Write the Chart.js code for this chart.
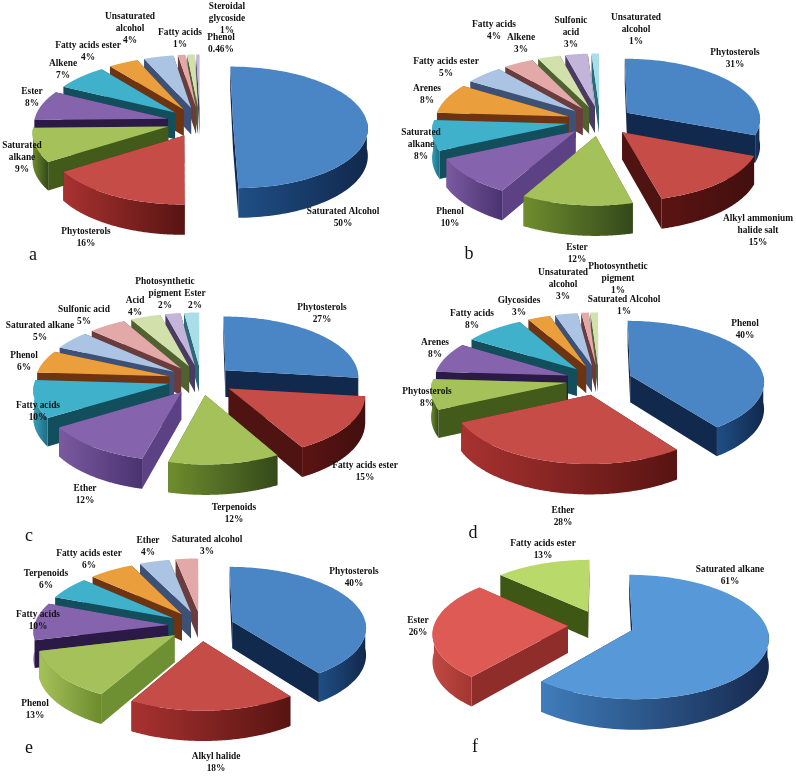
<!DOCTYPE html>
<html>
<head>
<meta charset="utf-8">
<style>
html,body{margin:0;padding:0;background:#fff;width:796px;height:776px;overflow:hidden}
canvas{position:absolute;left:0;top:0}
</style>
<script src="https://cdn.jsdelivr.net/npm/chart.js@4/dist/chart.umd.js"></script>
</head>
<body>
<script>
// ---------- data ----------
const categoriesA = ['Saturated Alcohol','Phytosterols','Saturated\nalkane','Ester','Alkene','Fatty acids ester','Unsaturated\nalcohol','Fatty acids','Steroidal\nglycoside','Phenol'];
const valuesA = [50,16,9,8,7,4,4,1,1,0.46];
const categoriesB = ['Phytosterols','Alkyl ammonium\nhalide salt','Ester','Phenol','Saturated\nalkane','Arenes','Fatty acids ester','Fatty acids','Alkene','Sulfonic\nacid','Unsaturated\nalcohol'];
const valuesB = [31,15,12,10,8,8,5,4,3,3,1];
const categoriesC = ['Phytosterols','Fatty acids ester','Terpenoids','Ether','Fatty acids','Phenol','Saturated alkane','Sulfonic acid','Acid','Photosynthetic\npigment','Ester'];
const valuesC = [27,15,12,12,10,6,5,5,4,2,2];
const categoriesD = ['Phenol','Ether','Phytosterols','Arenes','Fatty acids','Glycosides','Unsaturated\nalcohol','Photosynthetic\npigment','Saturated Alcohol'];
const valuesD = [40,28,8,8,8,3,3,1,1];
const categoriesE = ['Phytosterols','Alkyl halide','Phenol','Fatty acids','Terpenoids','Fatty acids ester','Ether','Saturated alcohol'];
const valuesE = [40,18,13,10,6,6,4,3];
const categoriesF = ['Saturated alkane','Ester','Fatty acids ester'];
const valuesF = [61,26,13];

// ---------- colours ----------
const topColors  = ['#4a86c5','#c64d47','#a5c25a','#8664ad','#3fb1cb','#eb9f3c','#abc4e3','#e3a9a9','#d2e0ac','#c3b5da','#a9dde8'];
const wallColors = ['#12294e','#4f1412','#425a1a','#2a1a45','#124e5c','#6e3310','#3d5075','#6b3c3c','#4f6230','#4a3b63','#2a6a78'];
const rimColors  = [['#1f4f86','#11284c'],['#a83230','#581412'],['#6f8d2e','#33491a'],['#7a5aa0','#4a3270'],['#3a9fb8','#1d6d82'],['#b8702a','#6e3310'],['#6d86ab','#3d5075'],['#a86f6f','#6b3c3c'],['#8a9c5c','#4f6230'],['#7c6c9c','#4a3b63'],['#5aa5b5','#2a6a78']];
const topColorsF = ['#5698d8','#de5a55','#b9d96a'];

// ---------- layout of the annotations (page px: centre x, first-line y) ----------
const labelPosA = [[343,212],[86,232],[22,146],[32,92],[63,64],[88,46],[130,17],[180,33],[227,7],[221,38]];
const labelPosB = [[735,53],[758,219],[577,248],[450,212],[421,133],[427,89],[446,62],[494,25],[521,38],[571,21],[636,18]];
const labelPosC = [[322,308],[365,466],[234,508],[85,489],[38,406],[24,356],[40,326],[84,310],[135,301],[165,282],[195,294]];
const labelPosD = [[745,324],[563,511],[427,392],[435,343],[472,314],[519,301],[563,273],[618,267],[624,300]];
const labelPosE = [[354,572],[216,757],[35,704],[38,615],[46,574],[89,554],[148,541],[207,540]];
const labelPosF = [[730,570],[418,621],[543,544]];

const panels = [
 {letter:'a',letterPos:[33,255],cx:200,cy:122,R:134,k:0.45,p:0.09,depth:27,explode:33,
  cats:categoriesA,vals:valuesA,pos:labelPosA,tops:topColors,wall:{},rim:{}},
 {letter:'b',letterPos:[469,254],cx:600,cy:121,R:134,k:0.45,p:0.09,depth:27,explode:33,
  cats:categoriesB,vals:valuesB,pos:labelPosB,tops:topColors,wall:{3:'#5c4185'},rim:{0:['#1a3a66','#12284c'],1:['#5a1412','#420f0f']}},
 {letter:'c',letterPos:[29,536],cx:201,cy:380,R:134,k:0.45,p:0.09,depth:27,explode:33,
  cats:categoriesC,vals:valuesC,pos:labelPosC,tops:topColors,wall:{3:'#5c4185'},rim:{0:['#1a3a66','#12284c'],1:['#5a1412','#420f0f']}},
 {letter:'d',letterPos:[473,533],cx:599,cy:380,R:134,k:0.45,p:0.09,depth:27,explode:33,
  cats:categoriesD,vals:valuesD,pos:labelPosD,tops:topColors,wall:{},rim:{}},
 {letter:'e',letterPos:[29,748],cx:201,cy:626,R:134,k:0.45,p:0.09,depth:27,explode:33,
  cats:categoriesE,vals:valuesE,pos:labelPosE,tops:topColors,wall:{2:'#6f8f33'},rim:{2:['#a5c25a','#6d8b2d']}},
 {letter:'f',letterPos:[475,747],cx:601,cy:625,R:134,k:0.45,p:0.11,depth:27,explode:33,
  cats:categoriesF,vals:valuesF,pos:labelPosF,tops:topColorsF,wall:{0:'#16294f',1:'#8f2d2a',2:'#3f5714'},rim:{0:['#3f7dbb','#16294f'],1:['#c04a44','#a33530']}}
];

const LABEL_FONT = 'bold 9.4px "Liberation Serif"';
const LINE_H = 11.6;

// ---------- 3D pie drawing: uses the arcs laid out by Chart.js, seen in perspective ----------
const pie3d = {
  id:'pie3d',
  beforeDatasetsDraw(chart){
    const cfg = chart.options.plugins.pie3d.panel;
    const ctx = chart.ctx;
    const arcs = chart.getDatasetMeta(0).data;
    const order = arcs.map((a,i)=>({a,i,mid:(a.startAngle+a.endAngle)/2}))
      .sort((u,v)=>Math.sin(u.mid)-Math.sin(v.mid));
    for(const {a,i,mid} of order){
      const R = a.outerRadius;
      const ex = cfg.explode*Math.cos(mid), ey = cfg.explode*Math.sin(mid);
      const d = cfg.depth;
      // world (X,Y) around the pie centre -> page, plus the wall height at that point
      const project = (X,Y)=>{
        const w = 1 - cfg.p*Y/R;
        return [a.x + X/w, a.y + cfg.k*Y/w, d/w];
      };
      const rimAt = th => project(ex+R*Math.cos(th), ey+R*Math.sin(th));
      const apex = project(ex,ey);
      // radial faces
      ctx.fillStyle = cfg.wall[i] || wallColors[i];
      for(const th of [a.startAngle,a.endAngle]){
        const q = rimAt(th);
        ctx.beginPath();
        ctx.moveTo(apex[0],apex[1]);ctx.lineTo(q[0],q[1]);ctx.lineTo(q[0],q[1]+q[2]);ctx.lineTo(apex[0],apex[1]+apex[2]);
        ctx.closePath();ctx.fill();
      }
      // outer rim (front part) and top face outline
      const N=120, front=[], outline=[];
      for(let j=0;j<=N;j++){
        const th=a.startAngle+(a.endAngle-a.startAngle)*j/N;
        const q=rimAt(th);
        outline.push(q);
        if(Math.sin(th)>=-0.01) front.push(q);
      }
      if(front.length>1){
        const xs=front.map(q=>q[0]);
        const g=ctx.createLinearGradient(Math.min(...xs),0,Math.max(...xs),0);
        const rc=cfg.rim[i]||rimColors[i];
        g.addColorStop(0,rc[0]);g.addColorStop(1,rc[1]);
        ctx.fillStyle=g;
        ctx.beginPath();
        front.forEach((q,j)=>j?ctx.lineTo(q[0],q[1]):ctx.moveTo(q[0],q[1]));
        for(let j=front.length-1;j>=0;j--)ctx.lineTo(front[j][0],front[j][1]+front[j][2]);
        ctx.closePath();ctx.fill();
      }
      ctx.fillStyle=a.options.backgroundColor;
      ctx.beginPath();
      ctx.moveTo(apex[0],apex[1]);
      outline.forEach(q=>ctx.lineTo(q[0],q[1]));
      ctx.closePath();ctx.fill();
    }
    return false;
  },
  afterDraw(chart){
    const cfg = chart.options.plugins.pie3d.panel;
    const ctx = chart.ctx;
    ctx.save();
    ctx.fillStyle='#111';
    ctx.textAlign='center';
    ctx.textBaseline='middle';
    ctx.font=LABEL_FONT;
    cfg.cats.forEach((name,i)=>{
      const lines=name.split('\n').concat(cfg.vals[i]+'%');
      lines.forEach((t,j)=>ctx.fillText(t,cfg.pos[i][0],cfg.pos[i][1]+j*LINE_H));
    });
    ctx.font='18px "Liberation Serif"';
    ctx.fillText(cfg.letter,cfg.letterPos[0],cfg.letterPos[1]);
    ctx.restore();
  }
};

const W=796,H=776;
panels.forEach(cfg=>{
  const cv=document.createElement('canvas');
  cv.width=W;cv.height=H;
  cv.style.width=W+'px';cv.style.height=H+'px';
  document.body.appendChild(cv);
  new Chart(cv,{
    type:'pie',
    data:{labels:cfg.cats,datasets:[{data:cfg.vals,backgroundColor:cfg.tops,borderWidth:0,clip:false}]},
    options:{
      responsive:false,animation:false,radius:cfg.R,
      layout:{padding:{
        left:Math.max(0,2*cfg.cx-W),right:Math.max(0,W-2*cfg.cx),
        top:Math.max(0,2*cfg.cy-H),bottom:Math.max(0,H-2*cfg.cy)}},
      plugins:{legend:{display:false},tooltip:{enabled:false},title:{display:false},pie3d:{panel:cfg}}
    },
    plugins:[pie3d]
  });
});
</script>
</body>
</html>
